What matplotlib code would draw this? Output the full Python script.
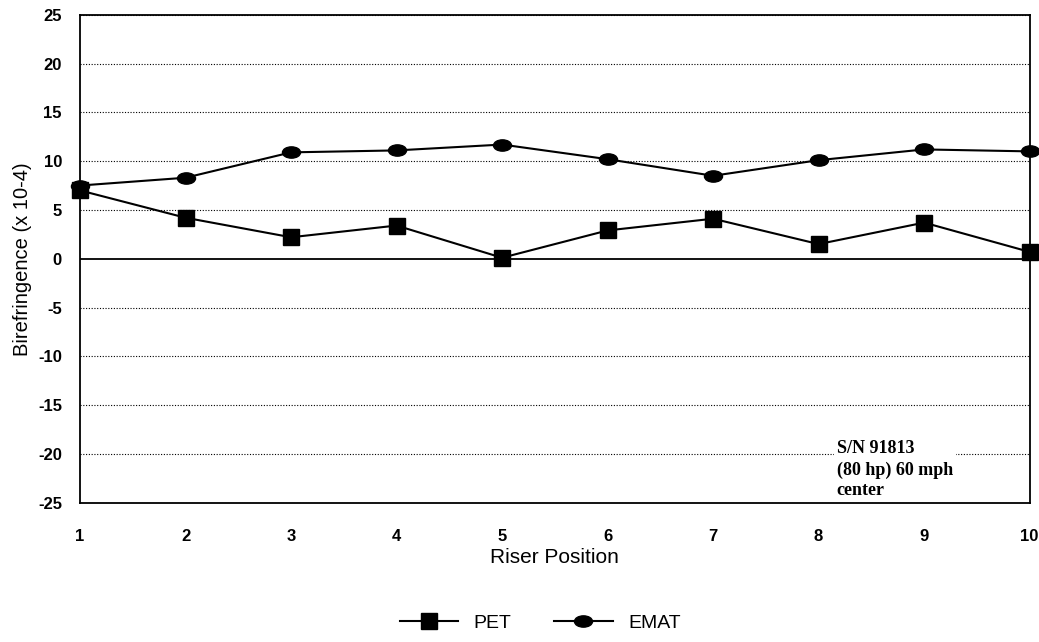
import numpy as np
import matplotlib
matplotlib.use("Agg")
import matplotlib.pyplot as plt
from matplotlib.path import Path
from matplotlib.transforms import Affine2D

positions = [1, 2, 3, 4, 5, 6, 7, 8, 9, 10]
pet = [7.0, 4.2, 2.2, 3.4, 0.1, 2.9, 4.1, 1.5, 3.7, 0.7]
emat = [7.5, 8.3, 10.9, 11.1, 11.7, 10.2, 8.5, 10.1, 11.2, 11.0]
y_ticks = [25, 20, 15, 10, 5, 0, -5, -10, -15, -20, -25]
note = "S/N 91813\n(80 hp) 60 mph\ncenter"

plt.rcParams['font.family'] = ['Liberation Sans', 'DejaVu Sans']
plt.rcParams['axes.unicode_minus'] = False

# flattened ellipse marker for EMAT
ellipse = Path.unit_circle().transformed(Affine2D().scale(1.6, 1.0))

fig = plt.figure(figsize=(10.39, 6.42), dpi=100)
ax = fig.add_axes([0.077, 0.217, 0.914, 0.76])

for y in y_ticks:
    if y == 0:
        ax.axhline(y, color='black', lw=1.3, zorder=1)
    else:
        ax.axhline(y, color='black', lw=0.8, ls=(0, (1, 1.5)), zorder=1)

ax.plot(positions, pet, color='black', lw=1.5, marker='s', markersize=11.5,
        label='PET', zorder=3, clip_on=False)
ax.plot(positions, emat, color='black', lw=1.5, marker=ellipse, markersize=13,
        label='EMAT', zorder=3, clip_on=False)

ax.set_xlim(1, 10)
ax.set_ylim(-25, 25)
ax.set_xticks(positions)
ax.set_yticks(y_ticks)
ax.tick_params(axis='both', length=0, labelsize=12)
ax.tick_params(axis='x', pad=19)
ax.tick_params(axis='y', pad=13)
for lab in ax.get_xticklabels() + ax.get_yticklabels():
    lab.set_fontweight('bold')
for s in ax.spines.values():
    s.set_linewidth(1.3)

ax.set_xlabel("Riser Position", fontsize=15, labelpad=3)
ax.set_ylabel("Birefringence (x 10-4)", fontsize=14.5, labelpad=4)

ax.text(8.17, -18.6, note, family='Liberation Serif', fontweight='bold',
        fontsize=13, va='top', ha='left', linespacing=1.3,
        bbox=dict(facecolor='white', edgecolor='none', pad=2), zorder=4)

fig.legend(loc='center', bbox_to_anchor=(0.52, 0.03), ncol=2, frameon=False,
           fontsize=14, handlelength=3, columnspacing=2.2)

fig.savefig("out.png", dpi=100)
